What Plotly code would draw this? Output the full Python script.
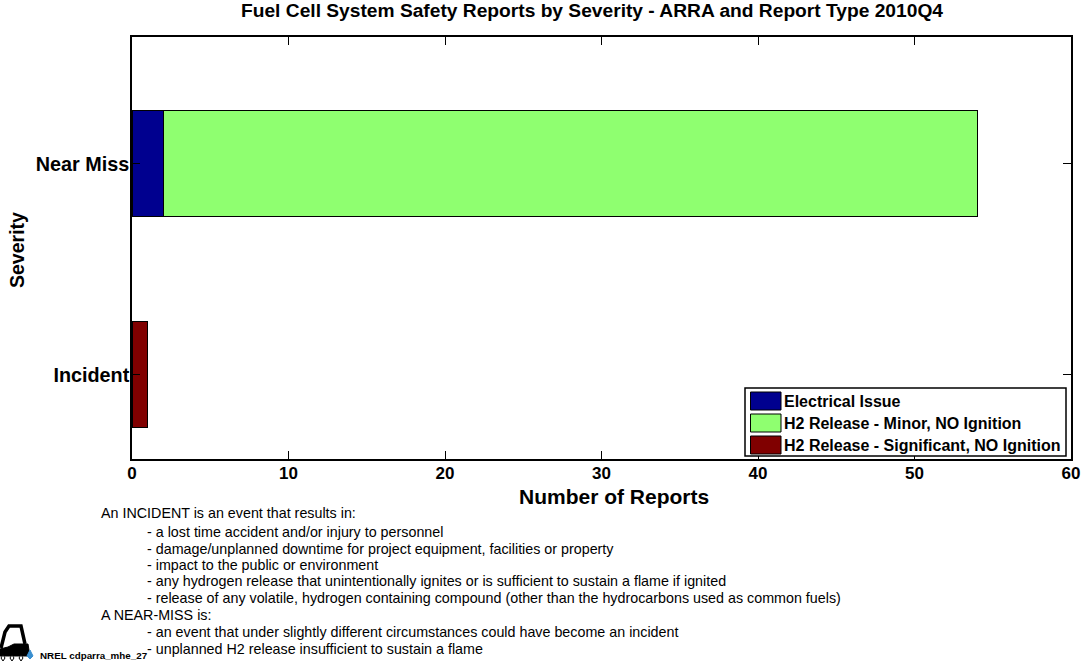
import plotly.graph_objects as go

categories = ["Incident", "Near Miss"]
series_names = ["Electrical Issue", "H2 Release - Minor, NO Ignition", "H2 Release - Significant, NO Ignition"]
electrical = [0, 2]
h2_minor = [0, 52]
h2_significant = [1, 0]
colors = ["#00008F", "#8FFF70", "#800000"]
title = "Fuel Cell System Safety Reports by Severity - ARRA and Report Type 2010Q4"
x_ticks = [0, 10, 20, 30, 40, 50, 60]
notes = [
    (101, 513, "An INCIDENT is an event that results in:"),
    (147, 532, "- a lost time accident and/or injury to personnel"),
    (147, 549, "- damage/unplanned downtime for project equipment, facilities or property"),
    (147, 565, "- impact to the public or environment"),
    (147, 581, "- any hydrogen release that unintentionally ignites or is sufficient to sustain a flame if ignited"),
    (147, 598, "- release of any volatile, hydrogen containing compound (other than the hydrocarbons used as common fuels)"),
    (101, 615, "A NEAR-MISS is:"),
    (147, 632, "- an event that under slightly different circumstances could have become an incident"),
    (147, 649, "- unplanned H2 release insufficient to sustain a flame"),
]

W, H = 1082, 661
L, R, T, B = 132, 1071, 37, 459
FONT = "Liberation Sans"

def px(x):
    return (x - L) / (R - L)

def py(y):
    return (B - y) / (B - T)

fig = go.Figure()
for name, vals, col in zip(series_names, [electrical, h2_minor, h2_significant], colors):
    fig.add_trace(go.Bar(
        y=[1, 2], x=vals, name=name, orientation="h", width=0.5,
        marker=dict(color=col, line=dict(color="black", width=1)),
        showlegend=False,
    ))

annotations = []
def text(x, y, s, size, bold=False, anchor="left", angle=0, color="black"):
    annotations.append(dict(
        xref="paper", yref="paper", x=px(x), y=py(y), text=f"<b>{s}</b>" if bold else s,
        showarrow=False, xanchor=anchor, yanchor="middle", textangle=angle,
        font=dict(family=FONT, size=size, color=color),
        borderpad=0, borderwidth=0,
    ))

text(592, 11, title, 19.2, True, "center")
text(614, 496, "Number of Reports", 21, True, "center")
text(17, 250, "Severity", 19.5, True, "center", -90)
for x, y, s in notes:
    text(x, y, s, 14.3)
text(40, 655, "NREL cdparra_mhe_27", 9.8, True)

shapes = []
def rect(x0, y0, x1, y1, fill, lw=1):
    shapes.append(dict(type="rect", xref="paper", yref="paper",
                       x0=px(x0), x1=px(x1), y0=py(y0), y1=py(y1),
                       fillcolor=fill, line=dict(color="black", width=lw), layer="above"))

rect(745, 388, 1066, 456, "white", 1.5)
for i, (name, col) in enumerate(zip(series_names, colors)):
    y = 401 + i * 22
    rect(750.5, y - 9, 781, y + 9, col)
    text(784, y + 0.5, name, 16, True)

def logo_path(d, fill=None, line="black", lw=3):
    shapes.append(dict(type="path", xref="paper", yref="paper", path=d,
                       fillcolor=fill, line=dict(color=line, width=lw), layer="above"))

def P(pts, close=False):
    s = "M" + " L".join(f"{px(a):.5f},{py(b):.5f}" for a, b in pts)
    return s + (" Z" if close else "")

logo_path(P([(1, 648), (5, 632), (9, 626), (21, 626), (25, 644)]), None, "black", 3.5)
logo_path(P([(0, 649), (8, 647), (14, 644), (28, 644), (30, 656), (0, 656)], True), "black", "black", 1)
for c in (3, 12, 21):
    logo_path(P([(c - 2, 658), (c, 655), (c + 2, 658), (c, 661)], True), "white", "black", 1)
logo_path(P([(27, 656), (30, 650), (33, 656), (30, 659)], True), "#3A8FD0", "#3A8FD0", 1)

fig.update_layout(
    width=W, height=H, autosize=False, barmode="stack", bargap=0.5,
    plot_bgcolor="white", paper_bgcolor="white",
    margin=dict(l=L, r=W - R, t=T, b=H - B, pad=0, autoexpand=False),
    annotations=annotations, shapes=shapes, showlegend=False,
    xaxis=dict(range=[0, 60], tickvals=x_ticks, ticks="inside", ticklen=8, tickwidth=1,
               tickcolor="black", showgrid=False, zeroline=False, showline=True,
               linecolor="black", linewidth=1.5, mirror="ticks", automargin=False,
               ticklabelstandoff=-2,
               tickfont=dict(family=FONT, size=17, color="black", weight="bold")),
    yaxis=dict(range=[0.6, 2.6], tickvals=[1, 2], ticktext=categories, ticks="inside",
               ticklen=8, tickwidth=1, tickcolor="black", showgrid=False, zeroline=False,
               showline=True, linecolor="black", linewidth=1.5, mirror="ticks", automargin=False,
               ticklabelstandoff=-3,
               tickfont=dict(family=FONT, size=19.8, color="black", weight="bold")),
)
fig.write_html("out.html", config=dict(displayModeBar=False),
               post_script="document.body.style.margin='0';")
